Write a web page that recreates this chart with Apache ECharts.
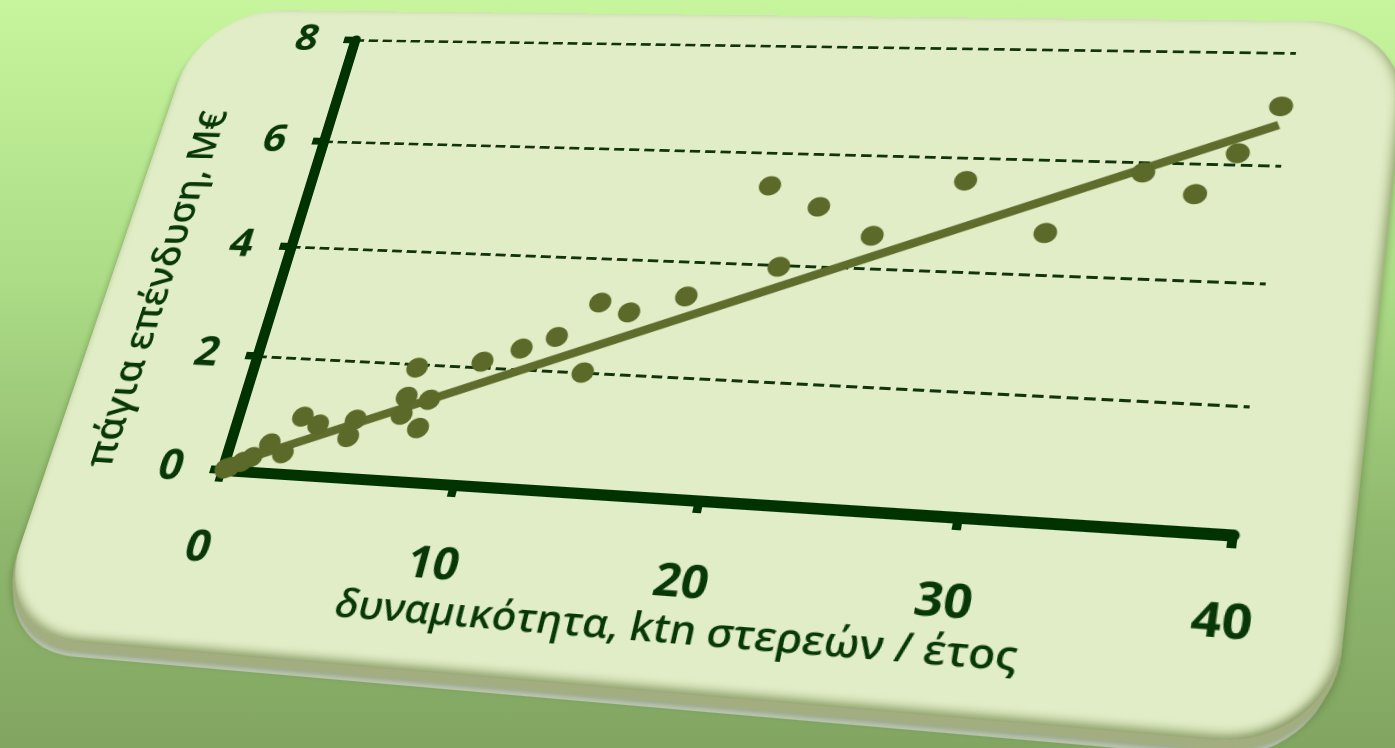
<!DOCTYPE html>
<html>
<head>
<meta charset="utf-8">
<script src="https://cdn.jsdelivr.net/npm/echarts@6/dist/echarts.min.js"></script>
<style>
html, body { margin:0; padding:0; width:1395px; height:748px; overflow:hidden; }
body { background: linear-gradient(180deg, #c6f59d 0%, #acdc86 38%, #8fb76d 72%, #82a662 100%); position:relative; }
#card {
  position:absolute; left:0; top:0; width:1196px; height:695px;
  transform-origin:0 0;
  background:#e1edc6;
  border-radius:90px;
  box-shadow: inset 0 -8px 9px -3px rgba(100,120,60,0.6),
              inset -7px 0 8px -3px rgba(100,120,60,0.5),
              0 8px 0 0 #a3ae80,
              0 10px 6px 1px rgba(60,80,30,0.35),
              0 18px 0 -4px rgba(222,222,222,0.7);
}
#chart { position:absolute; left:0; top:0; width:1196px; height:695px; }
</style>
</head>
<body>
<div id="card"><div id="chart"></div></div>
<script>
// ---- data ----
const capacity   = [0.12, 0.3, 0.76, 1.13, 1.72, 2.41, 2.8, 3.56, 5.0, 5.1, 7.0, 7.0, 7.1, 7.85, 8.0, 9.8, 11.3, 12.65, 14.1, 14.1, 15.4, 17.6, 20.0, 21.1, 22.2, 24.6, 27.9, 31.4, 34.8, 36.9, 38.3, 39.7];
const investment = [0.03, 0.06, 0.16, 0.25, 0.5, 0.35, 0.99, 0.87, 0.69, 0.99, 1.12, 1.43, 1.94, 0.91, 1.4, 2.1, 2.36, 2.59, 2.0, 3.22, 3.07, 3.39, 5.4, 3.97, 5.05, 4.57, 5.59, 4.72, 5.82, 5.47, 6.2, 7.04];
const trendCapacity   = [0.1, 39.7];
const trendInvestment = [0.08, 6.71];
const xTicks = [0, 10, 20, 30, 40];
const yTicks = [0, 2, 4, 6, 8];
const xTitle = 'δυναμικότητα, ktn στερεών / έτος';
const yTitle = 'πάγια επένδυση, Μ€';

// ---- layout (local card coordinates) ----
const GL = 179, GT = 35, GW = 920, GH = 480;

// perspective: map the plot rectangle onto the tilted quad of the picture
function squareToQuad(p) {
  const [x0,y0]=p[0],[x1,y1]=p[1],[x2,y2]=p[2],[x3,y3]=p[3];
  const dx1=x1-x2, dx2=x3-x2, dx3=x0-x1+x2-x3;
  const dy1=y1-y2, dy2=y3-y2, dy3=y0-y1+y2-y3;
  const den = dx1*dy2 - dx2*dy1;
  const g = (dx3*dy2 - dx2*dy3)/den, h = (dx1*dy3 - dx3*dy1)/den;
  return [[x1-x0+g*x1, x3-x0+h*x3, x0],[y1-y0+g*y1, y3-y0+h*y3, y0],[g, h, 1]];
}
function mul(A,B){const R=[[0,0,0],[0,0,0],[0,0,0]];for(let i=0;i<3;i++)for(let j=0;j<3;j++)for(let k=0;k<3;k++)R[i][j]+=A[i][k]*B[k][j];return R;}
const quad = [[355,40],[1296,53],[1233,535],[222,470]];
const S = squareToQuad(quad);
const T = [[1/GW,0,-GL/GW],[0,1/GH,-GT/GH],[0,0,1]];
const M = mul(S,T);
document.getElementById('card').style.transform =
  'matrix3d(' + [M[0][0],M[1][0],0,M[2][0], M[0][1],M[1][1],0,M[2][1], 0,0,1,0, M[0][2],M[1][2],0,M[2][2]].join(',') + ')';

// ---- chart ----
const FONT = '"Open Sans", "Noto Sans", "DejaVu Sans", sans-serif';
const AX = '#003300', TXT = '#083808', MARK = '#5b6a29';
const chart = echarts.init(document.getElementById('chart'), null, {renderer:'canvas', devicePixelRatio:2});
chart.setOption({
  backgroundColor:'transparent',
  animation:false,
  grid:{left:GL, top:GT, width:GW, height:GH, containLabel:false},
  xAxis:{
    type:'value', min:xTicks[0], max:xTicks[xTicks.length-1], interval:xTicks[1]-xTicks[0],
    axisLine:{show:true, lineStyle:{color:AX, width:11}},
    axisTick:{show:true, length:12, lineStyle:{color:AX, width:8}},
    splitLine:{show:false},
    axisLabel:{margin:58, fontSize:43, fontWeight:'bold', color:TXT, fontFamily:FONT},
    name:xTitle, nameLocation:'middle', nameGap:102,
    nameTextStyle:{fontSize:37, fontWeight:600, color:TXT, fontFamily:FONT, padding:[0,12,0,0]}
  },
  yAxis:{
    type:'value', min:yTicks[0], max:yTicks[yTicks.length-1], interval:yTicks[1]-yTicks[0],
    axisLine:{show:true, lineStyle:{color:AX, width:11}},
    axisTick:{show:true, length:12, lineStyle:{color:AX, width:8}},
    splitLine:{show:true, lineStyle:{color:'#12340c', width:3, type:[10,5]}},
    axisLabel:{margin:40, fontSize:43, fontWeight:'bold', color:TXT, fontFamily:FONT},
    name:yTitle, nameLocation:'middle', nameGap:105, nameRotate:90,
    nameTextStyle:{fontSize:40, fontWeight:600, color:TXT, fontFamily:FONT, padding:[0,92,0,0]}
  },
  series:[
    {type:'line', data:trendCapacity.map((x,i)=>[x,trendInvestment[i]]), symbol:'none',
     lineStyle:{color:'#5e6d2c', width:9}, z:2},
    {type:'scatter', data:capacity.map((x,i)=>[x,investment[i]]), symbolSize:21,
     itemStyle:{color:MARK, opacity:1}, z:3}
  ]
});
</script>
</body>
</html>
